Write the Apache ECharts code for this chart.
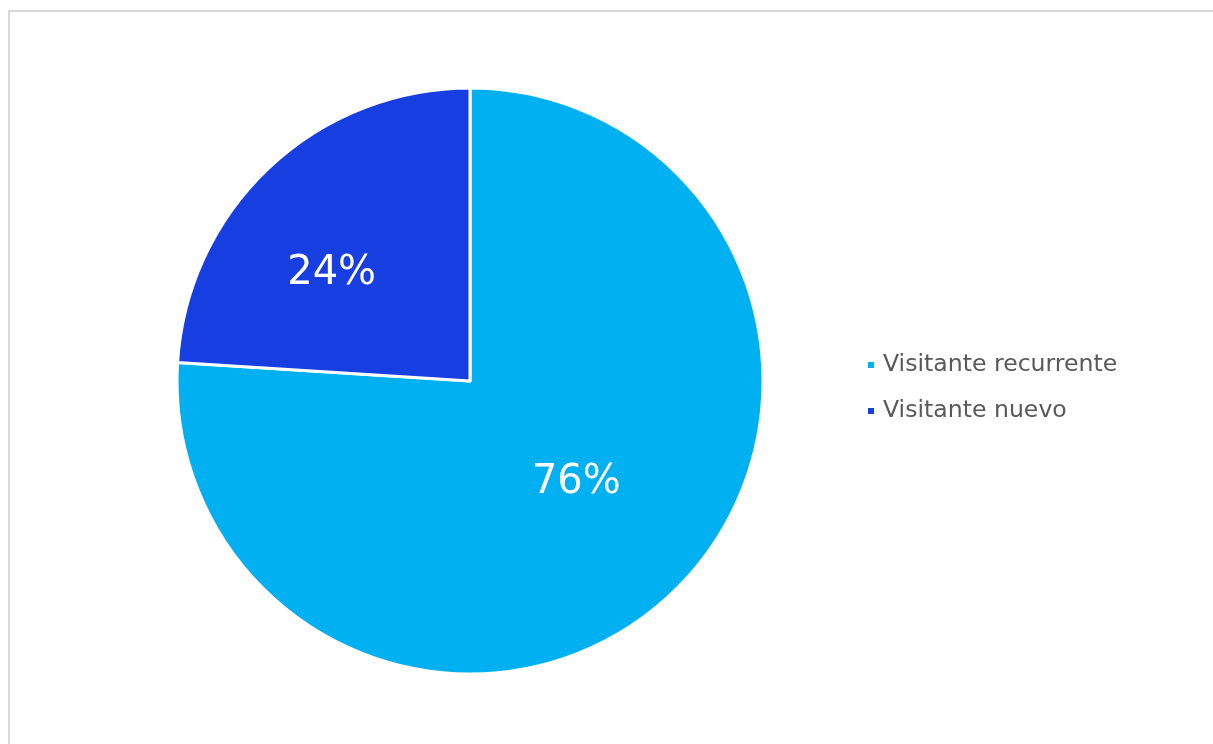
<!DOCTYPE html>
<html><head><meta charset="utf-8">
<script src="https://cdn.jsdelivr.net/npm/echarts@6/dist/echarts.min.js"></script>
<style>html,body{margin:0;padding:0;background:#fff;}#c{width:1213px;height:744px;}</style>
</head><body><div id="c"></div>
<script>
const categories = ['Visitante recurrente', 'Visitante nuevo'];
const values = [76, 24];
const colors = ['#00B0F0', '#173EE0'];
const labelOffsets = [[4, -7], [-36, 2]];

const chart = echarts.init(document.getElementById('c'), null, {renderer: 'canvas'});
chart.setOption({
  animation: false,
  backgroundColor: '#fff',
  graphic: [{
    type: 'rect', shape: {x: 9, y: 11, width: 1220, height: 760},
    style: {fill: 'none', stroke: '#d9d9d9', lineWidth: 2}, silent: true
  }],
  legend: {
    orient: 'vertical', left: 866, top: 353, padding: 0,
    itemWidth: 8, itemHeight: 8, itemGap: 22, icon: 'rect',
    textStyle: {fontFamily: 'DejaVu Sans', fontSize: 23.6, color: '#595959', lineHeight: 24, padding: [0, 0, 0, 3]},
    data: categories
  },
  series: [{
    type: 'pie', center: [470, 381], radius: 293, startAngle: 90, clockwise: true,
    itemStyle: {borderColor: '#fff', borderWidth: 3},
    label: {show: true, position: 'inside', formatter: '{c}%', color: '#fff', fontFamily: 'DejaVu Sans', fontSize: 40},
    labelLine: {show: false},
    data: categories.map((n, i) => ({name: n, value: values[i], itemStyle: {color: colors[i]}, label: {offset: labelOffsets[i]}}))
  }]
});
</script></body></html>
